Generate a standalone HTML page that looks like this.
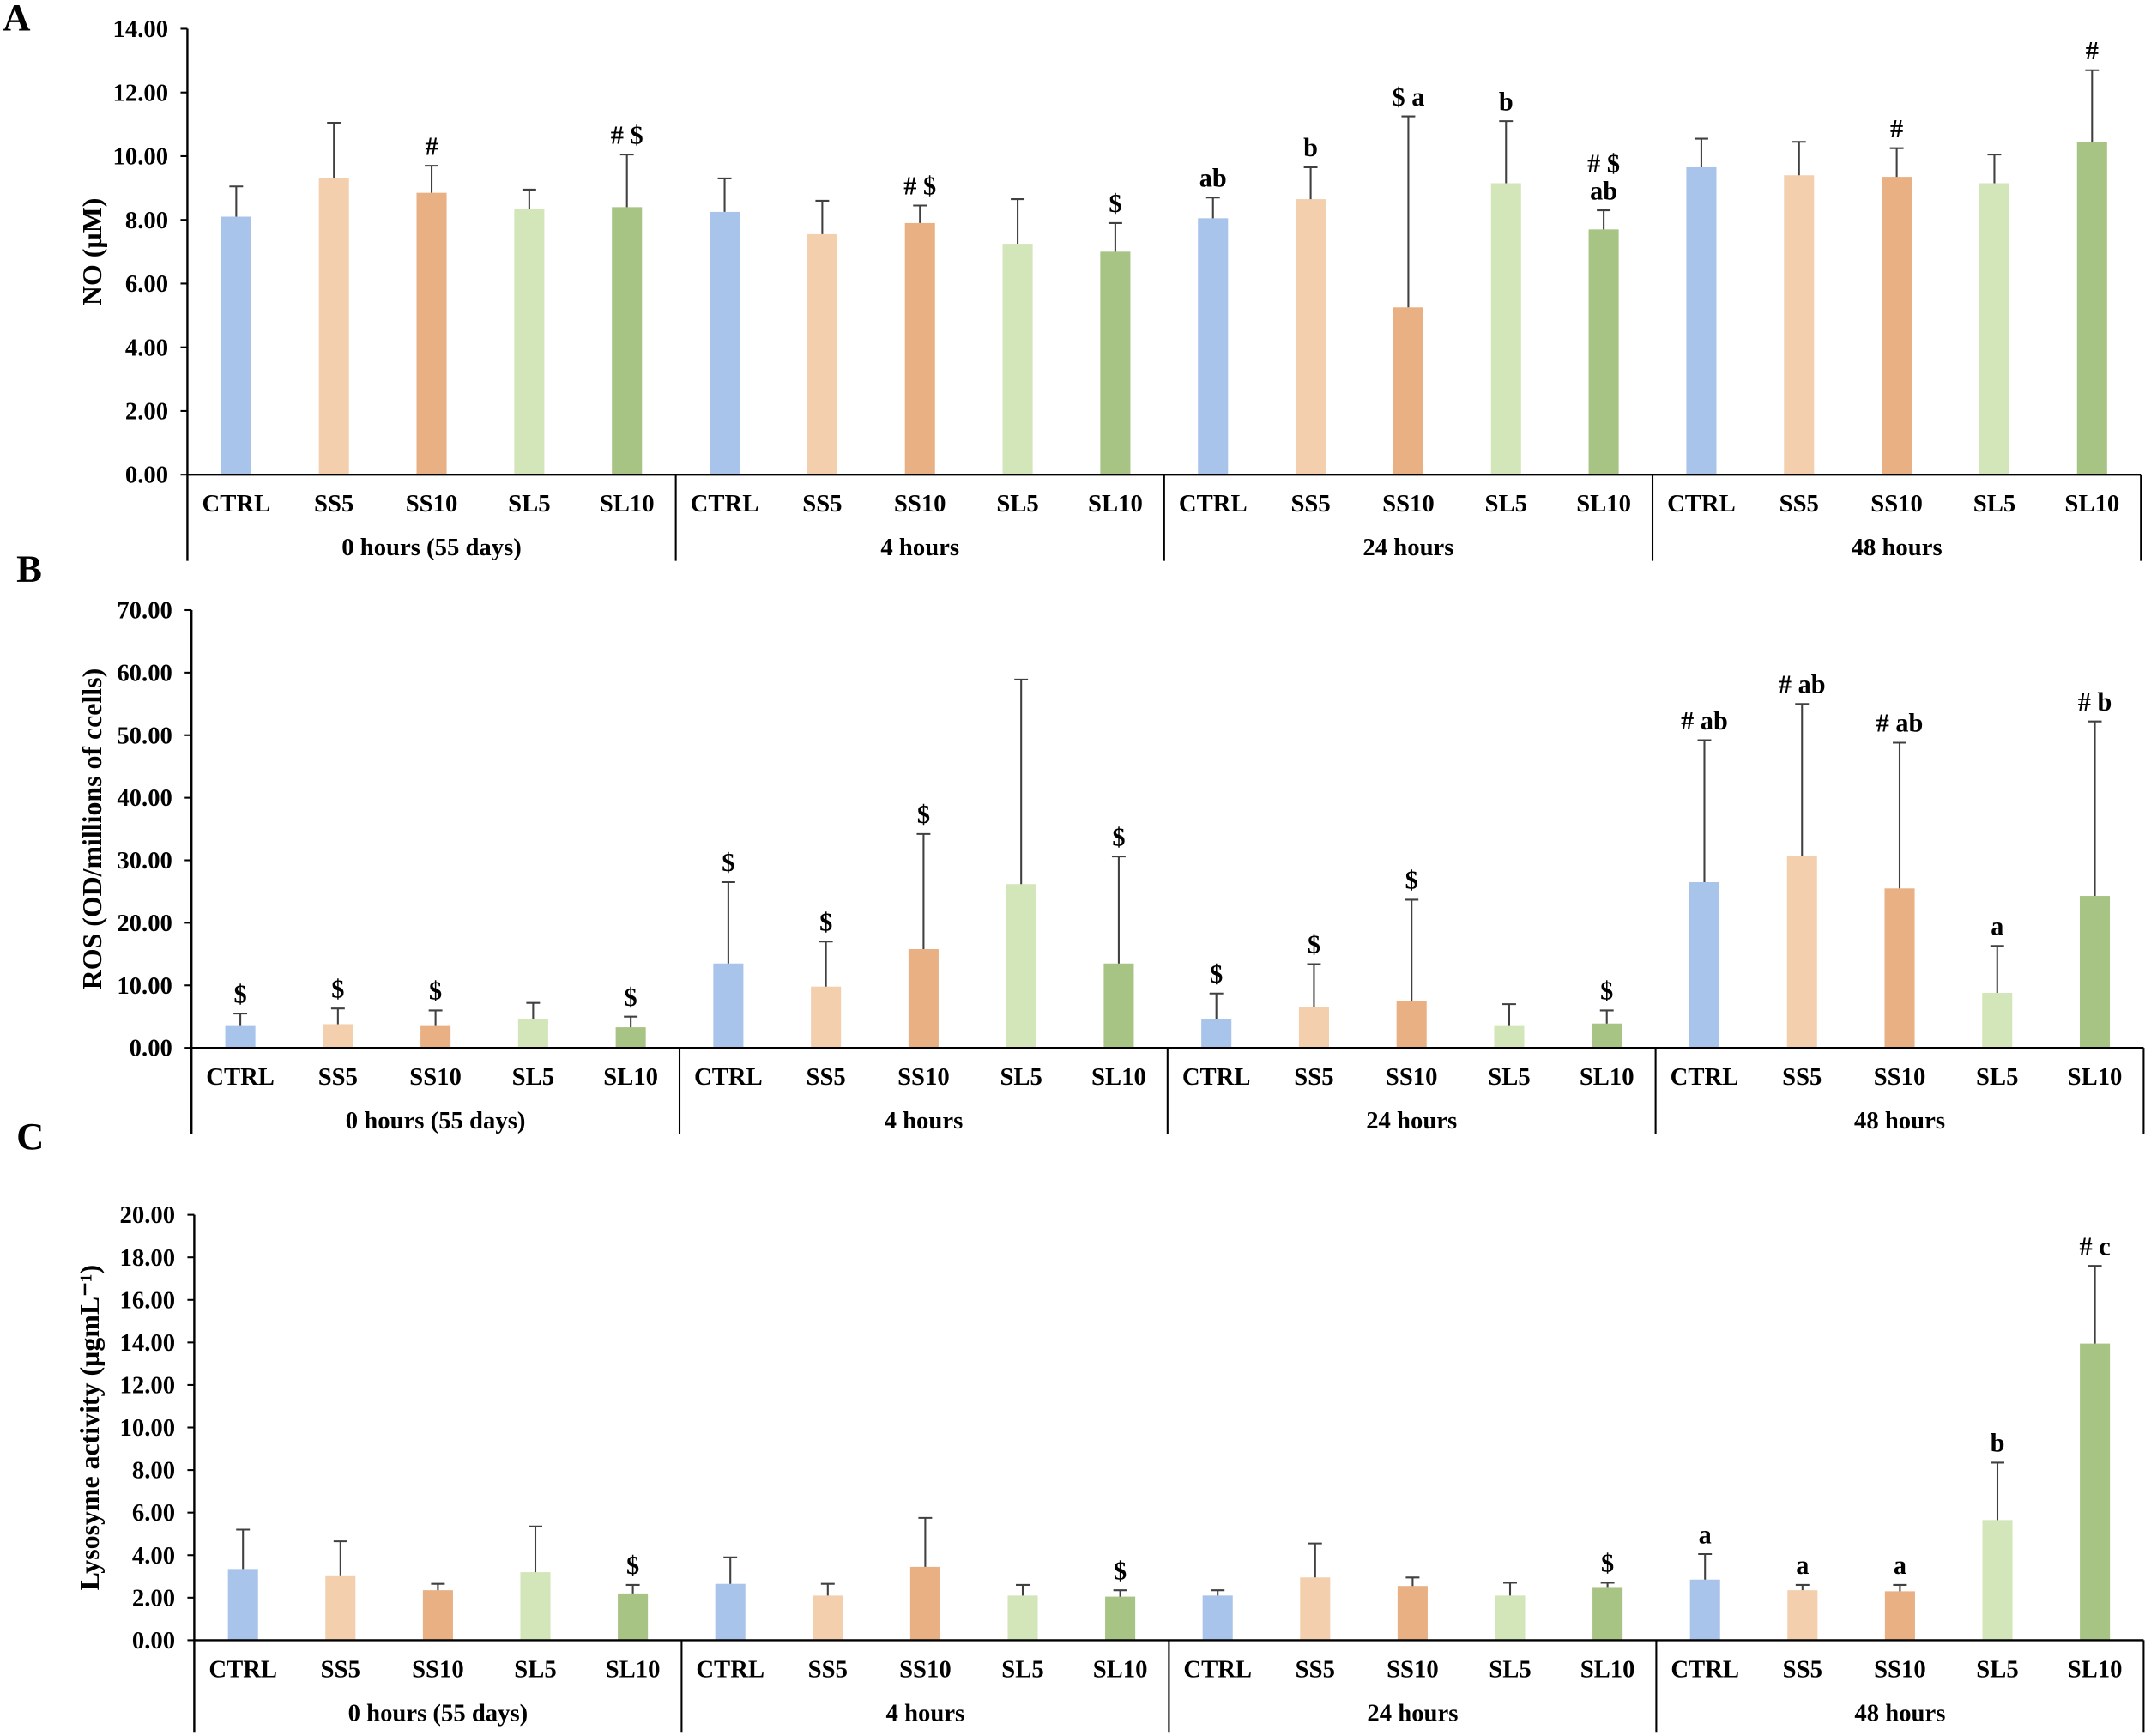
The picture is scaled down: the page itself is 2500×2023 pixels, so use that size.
<!DOCTYPE html>
<html><head><meta charset="utf-8">
<style>
html,body{margin:0;padding:0;background:#fff;}
svg{display:block;font-family:"Liberation Serif",serif;font-weight:bold;}
</style></head>
<body>
<svg id="chart" width="2500" height="2023" viewBox="0 0 1568 1269" preserveAspectRatio="none" xmlns="http://www.w3.org/2000/svg"></svg>
<script>
const categories = ["CTRL","SS5","SS10","SL5","SL10"];
const groups = ["0 hours (55 days)","4 hours","24 hours","48 hours"];
const colors = ["#a9c4ea","#f4cfae","#e9b084","#d3e6b9","#a8c485"];

const noMeans = [8.1,9.3,8.85,8.35,8.4, 8.25,7.55,7.9,7.25,7.0, 8.05,8.65,5.25,9.15,7.7, 9.65,9.4,9.35,9.15,10.45];
const noTops  = [9.05,11.05,9.7,8.95,10.05, 9.3,8.6,8.45,8.65,7.9, 8.7,9.65,11.25,11.1,8.3, 10.55,10.45,10.25,10.05,12.7];
const noLabels = ["","","#","","# $", "","","# $","","$", "ab","b","$ a","b","# $|ab", "","","#","","#"];
const noTicks = ["0.00","2.00","4.00","6.00","8.00","10.00","12.00","14.00"];

const rosMeans = [3.5,3.8,3.5,4.6,3.3, 13.5,9.8,15.8,26.2,13.5, 4.6,6.6,7.5,3.5,3.9, 26.5,30.7,25.5,8.8,24.3];
const rosTops  = [5.5,6.3,6.0,7.2,5.0, 26.5,17.0,34.2,58.9,30.6, 8.7,13.4,23.7,7.0,6.0, 49.2,55.0,48.8,16.3,52.2];
const rosLabels = ["$","$","$","","$", "$","$","$","","$", "$","$","$","","$", "# ab","# ab","# ab","a","# b"];
const rosTicks = ["0.00","10.00","20.00","30.00","40.00","50.00","60.00","70.00"];

const lysMeans = [3.35,3.05,2.35,3.2,2.2, 2.65,2.1,3.45,2.1,2.05, 2.1,2.95,2.55,2.1,2.5, 2.85,2.35,2.3,5.65,13.95];
const lysTops  = [5.2,4.65,2.65,5.35,2.6, 3.9,2.65,5.75,2.6,2.35, 2.35,4.55,2.95,2.7,2.7, 4.05,2.6,2.6,8.35,17.6];
const lysLabels = ["","","","","$", "","","","","$", "","","","","$", "a","a","a","b","# c"];
const lysTicks = ["0.00","2.00","4.00","6.00","8.00","10.00","12.00","14.00","16.00","18.00","20.00"];

const NS="http://www.w3.org/2000/svg";
const svg=document.getElementById('chart');
function mk(tag,attrs,parent,text){const e=document.createElementNS(NS,tag);for(const k in attrs)e.setAttribute(k,attrs[k]);if(text!==undefined)e.textContent=text;(parent||svg).appendChild(e);return e;}

function panel(opt){
  const g=mk('g',{});
  
  
  const x0=opt.x0,x1=opt.x1,yb=opt.yb,yt=opt.yt,max=opt.max;
  const y=v=>yb-(v/max)*(yb-yt);
  const n=opt.means.length, cw=(x1-x0)/n;
  const cx=i=>x0+cw*(i+0.5);
  const L=mk('text',{x:opt.lx,y:opt.ly,'font-size':28},g,opt.letter);
  
  
  opt.ticks.forEach((t,i)=>{
    const v=max*i/(opt.ticks.length-1);
    const tl=mk('line',{x1:x0-5,x2:x0,y1:y(v),y2:y(v),stroke:'#000','stroke-width':1.3},g);
    
    
    const tt=mk('text',{x:x0-14,y:y(v)+6,'font-size':18,'text-anchor':'end'},g,t);
    
    
  });
  const ym=(yb+yt)/2;
  const yt1=mk('text',{x:opt.titleX,y:ym,'font-size':20,'text-anchor':'middle',transform:`rotate(-90 ${opt.titleX} ${ym})`},g,opt.title);
  
  
  opt.means.forEach((m,i)=>{
    const c=cx(i), bw=22;
    const r=mk('rect',{x:c-bw/2,y:y(m),width:bw,height:yb-y(m),fill:colors[i%5]},g);
    
    
    const e=mk('path',{d:`M${c},${y(m)}V${y(opt.tops[i])}M${c-5},${y(opt.tops[i])}H${c+5}`,stroke:'#404040','stroke-width':1.3,fill:'none'},g);
    
    
    const lab=opt.labels[i];
    if(lab){
      const parts=lab.split('|');
      parts.forEach((p,k)=>{
        const ty=y(opt.tops[i])-8-(parts.length-1-k)*20;
        const st=mk('text',{x:c,y:ty,'font-size':19,'text-anchor':'middle'},g,p);
        
        
      });
    }
    const cl=mk('text',{x:c,y:yb+27,'font-size':18,'text-anchor':'middle'},g,categories[i%5]);
    
    
  });
  const ax=mk('line',{x1:x0,x2:x0,y1:yt,y2:opt.ybot,stroke:'#000','stroke-width':1.5},g);
  
  
  const bx=mk('line',{x1:x0,x2:x1,y1:yb,y2:yb,stroke:'#000','stroke-width':1.5},g);
  
  
  groups.forEach((gn,k)=>{
    const gx=x0+cw*5*(k+1);
    const d=mk('line',{x1:gx,x2:gx,y1:yb,y2:opt.ybot,stroke:'#000','stroke-width':1.3},g);
    
    
    const gl=mk('text',{x:x0+cw*5*(k+0.5),y:yb+59,'font-size':18,'text-anchor':'middle'},g,gn);
    
    
  });
}

panel({name:'panel-a-no',letter:'A',lx:2,ly:22,x0:137,x1:1565,yb:347,yt:21,ybot:410,max:14,
  means:noMeans,tops:noTops,labels:noLabels,ticks:noTicks,title:'NO (µM)',titleX:74});
panel({name:'panel-b-ros',letter:'B',lx:12,ly:425,x0:140,x1:1567,yb:766,yt:446,ybot:829,max:70,
  means:rosMeans,tops:rosTops,labels:rosLabels,ticks:rosTicks,title:'ROS (OD/millions of  ccells)',titleX:74});
panel({name:'panel-c-lysozyme',letter:'C',lx:12,ly:840,x0:142,x1:1567,yb:1199,yt:888,ybot:1266,max:20,
  means:lysMeans,tops:lysTops,labels:lysLabels,ticks:lysTicks,title:'Lysosyme activity (µgmL⁻¹)',titleX:72});
</script>
</body></html>
